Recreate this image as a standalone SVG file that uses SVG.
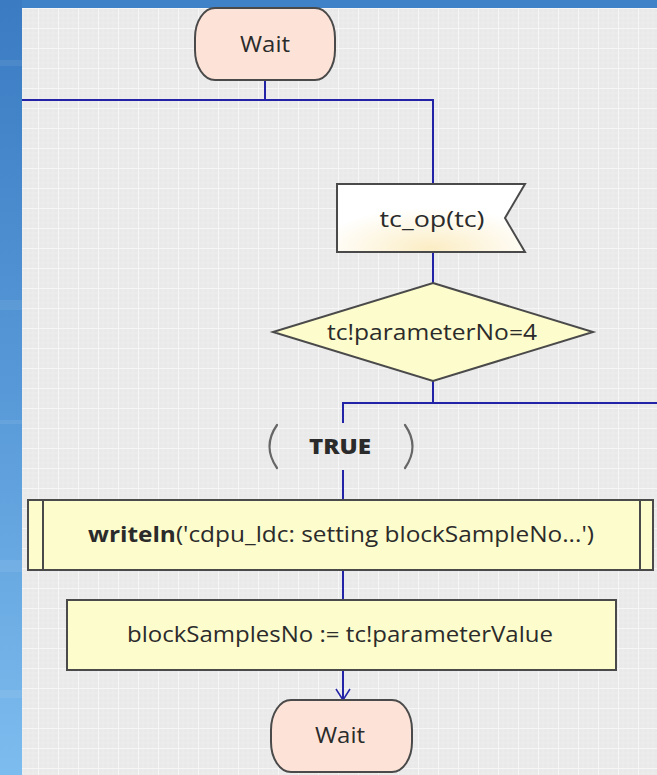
<svg xmlns="http://www.w3.org/2000/svg" width="657" height="775" viewBox="0 0 657 775">
  <defs>
    <style>
      .frame { fill: #3f82c7; }
      .node { stroke: #4a4a4a; stroke-width: 2; }
      .term { fill: #fde3d7; }
      .task { fill: #fdfccc; }
      .wire { fill: none; stroke: #2323a8; stroke-width: 2; }
      .label { font-family: "Open Sans", "DejaVu Sans", sans-serif; font-size: 21px; fill: #2b2b2b; text-anchor: middle; }
      .bold { font-weight: bold; }
      .paren { fill: none; stroke: #666666; stroke-width: 2.2; stroke-linecap: round; }
    </style>
    <linearGradient id="sideGrad" x1="0" y1="0" x2="0" y2="1">
      <stop offset="0" stop-color="#3a7bc2"/>
      <stop offset="0.5" stop-color="#5799d8"/>
      <stop offset="1" stop-color="#7dbcee"/>
    </linearGradient>
    <radialGradient id="inputGrad" cx="0.5" cy="0.95" r="0.6">
      <stop offset="0" stop-color="#fbedc4"/>
      <stop offset="1" stop-color="#ffffff"/>
    </radialGradient>
    <pattern id="grid" x="18" y="8" width="20" height="20" patternUnits="userSpaceOnUse">
      <rect width="20" height="20" fill="#e9e9e9"/>
      <path d="M5 0V20M10 0V20M15 0V20M0 5H20M0 10H20M0 15H20" stroke="#ededed" stroke-width="1"/>
      <path d="M0.5 0V20M0 0.5H20" stroke="#f6f6f6" stroke-width="1"/>
    </pattern>
    <marker id="openArrow" markerWidth="16" markerHeight="16" refX="12" refY="8" orient="auto" markerUnits="userSpaceOnUse">
      <path d="M1 1L12 8L1 15" fill="none" stroke="#2323a8" stroke-width="1.5"/>
    </marker>
  </defs>

  <!-- window frame and drawing sheet -->
  <rect x="0" y="0" width="657" height="775" class="frame"/>
  <rect x="0" y="0" width="22" height="775" fill="url(#sideGrad)"/>
  <g fill="#ffffff" opacity="0.07">
    <rect x="0" y="60" width="22" height="6"/>
    <rect x="0" y="300" width="22" height="10"/>
    <rect x="0" y="420" width="22" height="4"/>
    <rect x="0" y="560" width="22" height="12"/>
    <rect x="0" y="690" width="22" height="8"/>
  </g>
  <rect x="22" y="8" width="635" height="767" fill="url(#grid)"/>

  <!-- connectors -->
  <g id="connectors">
    <path class="wire" d="M265 80V100"/>
    <path class="wire" d="M22 100H433V184"/>
    <path class="wire" d="M433 252V283"/>
    <path class="wire" d="M433 381V403"/>
    <path class="wire" d="M657 403H343V423"/>
    <path class="wire" d="M343 470V500"/>
    <path class="wire" d="M343 570V600"/>
    <path class="wire" d="M343 670V700" marker-end="url(#openArrow)"/>
  </g>

  <!-- start state -->
  <g id="wait-start">
    <rect class="node term" x="195" y="8" width="140" height="72" rx="20" ry="30"/>
    <text class="label" x="265" y="52" textLength="50" lengthAdjust="spacingAndGlyphs">Wait</text>
  </g>

  <!-- input signal -->
  <g id="input-tc-op">
    <polygon class="node" fill="url(#inputGrad)" points="337,184 525,184 505,218 525,252 337,252"/>
    <text class="label" x="432" y="227" textLength="105" lengthAdjust="spacingAndGlyphs">tc_op(tc)</text>
  </g>

  <!-- decision -->
  <g id="decision-parameter">
    <polygon class="node task" points="433,283 593,332 433,381 273,332"/>
    <text class="label" x="432" y="340" font-size="20" textLength="210" lengthAdjust="spacingAndGlyphs">tc!parameterNo=4</text>
  </g>

  <!-- decision answer -->
  <g id="answer-true">
    <path class="paren" d="M277 425Q262 446.5 277 468"/>
    <path class="paren" d="M405 425Q420 446.5 405 468"/>
    <text class="label" x="340" y="454" font-size="20" font-weight="800" fill="#111" textLength="62" lengthAdjust="spacingAndGlyphs">TRUE</text>
  </g>

  <!-- procedure call -->
  <g id="call-writeln">
    <rect class="node task" x="28" y="500" width="625" height="70"/>
    <path class="node" d="M43 500V570M640 500V570" fill="none"/>
    <text class="label" x="341" y="542" textLength="506" lengthAdjust="spacingAndGlyphs"><tspan class="bold">writeln</tspan>('cdpu_ldc: setting blockSampleNo...')</text>
  </g>

  <!-- assignment -->
  <g id="task-assign">
    <rect class="node task" x="67" y="600" width="549" height="70"/>
    <text class="label" x="340" y="642" textLength="426" lengthAdjust="spacingAndGlyphs">blockSamplesNo := tc!parameterValue</text>
  </g>

  <!-- next state -->
  <g id="wait-end">
    <rect class="node term" x="271" y="700" width="141" height="72" rx="20" ry="30"/>
    <text class="label" x="340" y="743" textLength="50" lengthAdjust="spacingAndGlyphs">Wait</text>
  </g>
</svg>
